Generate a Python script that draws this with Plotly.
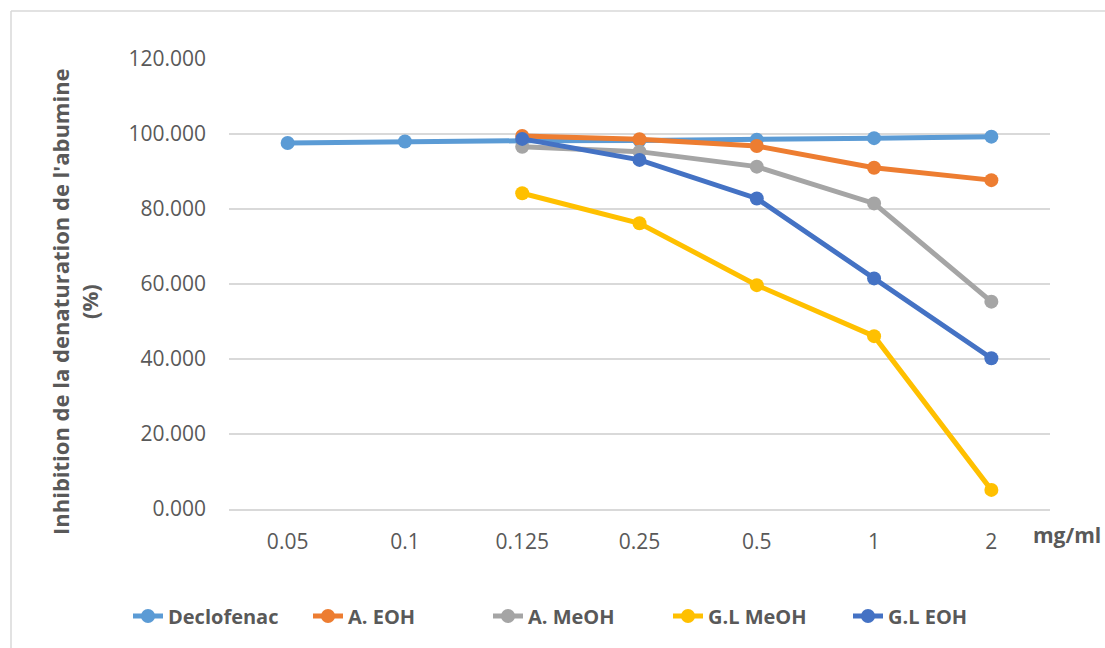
import plotly.graph_objects as go

categories = ["0.05", "0.1", "0.125", "0.25", "0.5", "1", "2"]
declofenac = [97.6, 98.0, 98.2, 98.3, 98.5, 98.9, 99.3]
a_eoh = [None, None, 99.5, 98.6, 96.8, 91.0, 87.7]
a_meoh = [None, None, 96.6, 95.3, 91.3, 81.5, 55.3]
gl_meoh = [None, None, 84.2, 76.2, 59.7, 46.1, 5.1]
gl_eoh = [None, None, 98.7, 93.1, 82.8, 61.5, 40.2]

series = [
    ("Declofenac", declofenac, "#5B9BD5"),
    ("A. EOH", a_eoh, "#ED7D31"),
    ("A. MeOH", a_meoh, "#A5A5A5"),
    ("G.L MeOH", gl_meoh, "#FFC000"),
    ("G.L EOH", gl_eoh, "#4472C4"),
]

y_ticks = [0, 20, 40, 60, 80, 100, 120]
y_tick_labels = ["0.000", "20.000", "40.000", "60.000", "80.000", "100.000", "120.000"]
y_title = "Inhibition de la denaturation de l'abumine<br>(%)"
x_title = "mg/ml"

FONT = "Open Sans"
TXT = "#595959"

fig = go.Figure()
for name, vals, col in series:
    fig.add_trace(go.Scatter(
        x=categories, y=vals, name=name, mode="lines+markers",
        line=dict(color=col, width=5),
        marker=dict(color=col, size=14),
        connectgaps=False,
    ))

W, H = 1105, 648
L, R, T, B = 229, 55, 59, 139
pw, ph = W - L - R, H - T - B

def px(x):
    return (x - L) / pw

def py(y):
    return (H - B - y) / ph

fig.update_layout(
    width=W, height=H,
    margin=dict(l=L, r=R, t=T, b=B, autoexpand=False),
    paper_bgcolor="white", plot_bgcolor="white",
    font=dict(family=FONT, color=TXT, size=21),
    showlegend=True,
    legend=dict(
        orientation="h", x=px(128), xanchor="left", y=py(616), yanchor="middle",
        font=dict(family=FONT, size=20, color=TXT, weight="bold"),
        entrywidth=135, entrywidthmode="pixels", traceorder="normal",
    ),
    xaxis=dict(
        type="category", categoryorder="array", categoryarray=categories,
        showgrid=False, showline=True, linecolor="#D9D9D9", linewidth=1.5,
        ticks="", tickfont=dict(family=FONT, size=21, color=TXT),
        ticklabelstandoff=13, range=[-0.5, 6.5],
    ),
    yaxis=dict(
        range=[0, 120], tickvals=y_ticks, ticktext=y_tick_labels,
        showgrid=True, gridcolor="#D9D9D9", gridwidth=1.5,
        zeroline=False, showline=False, ticks="",
        tickfont=dict(family=FONT, size=21, color=TXT),
        ticklabelstandoff=22,
    ),
    annotations=[
        dict(
            text=x_title, xref="paper", yref="paper", x=px(1067), y=py(535),
            xanchor="center", yanchor="middle", showarrow=False,
            font=dict(family=FONT, size=21, color=TXT, weight="bold"),
        ),
        dict(
            text=y_title, xref="paper", yref="paper", x=px(74), y=py(302),
            xanchor="center", yanchor="middle", showarrow=False, textangle=-90,
            font=dict(family=FONT, size=22, color=TXT, weight="bold"),
        ),
    ],
    shapes=[
        dict(type="line", xref="paper", yref="paper", x0=px(11), x1=px(1105), y0=py(11), y1=py(11),
             line=dict(color="#D9D9D9", width=1.5)),
        dict(type="line", xref="paper", yref="paper", x0=px(11), x1=px(11), y0=py(11), y1=py(648),
             line=dict(color="#D9D9D9", width=1.5)),
    ],
)

fig.write_html("out.html")
